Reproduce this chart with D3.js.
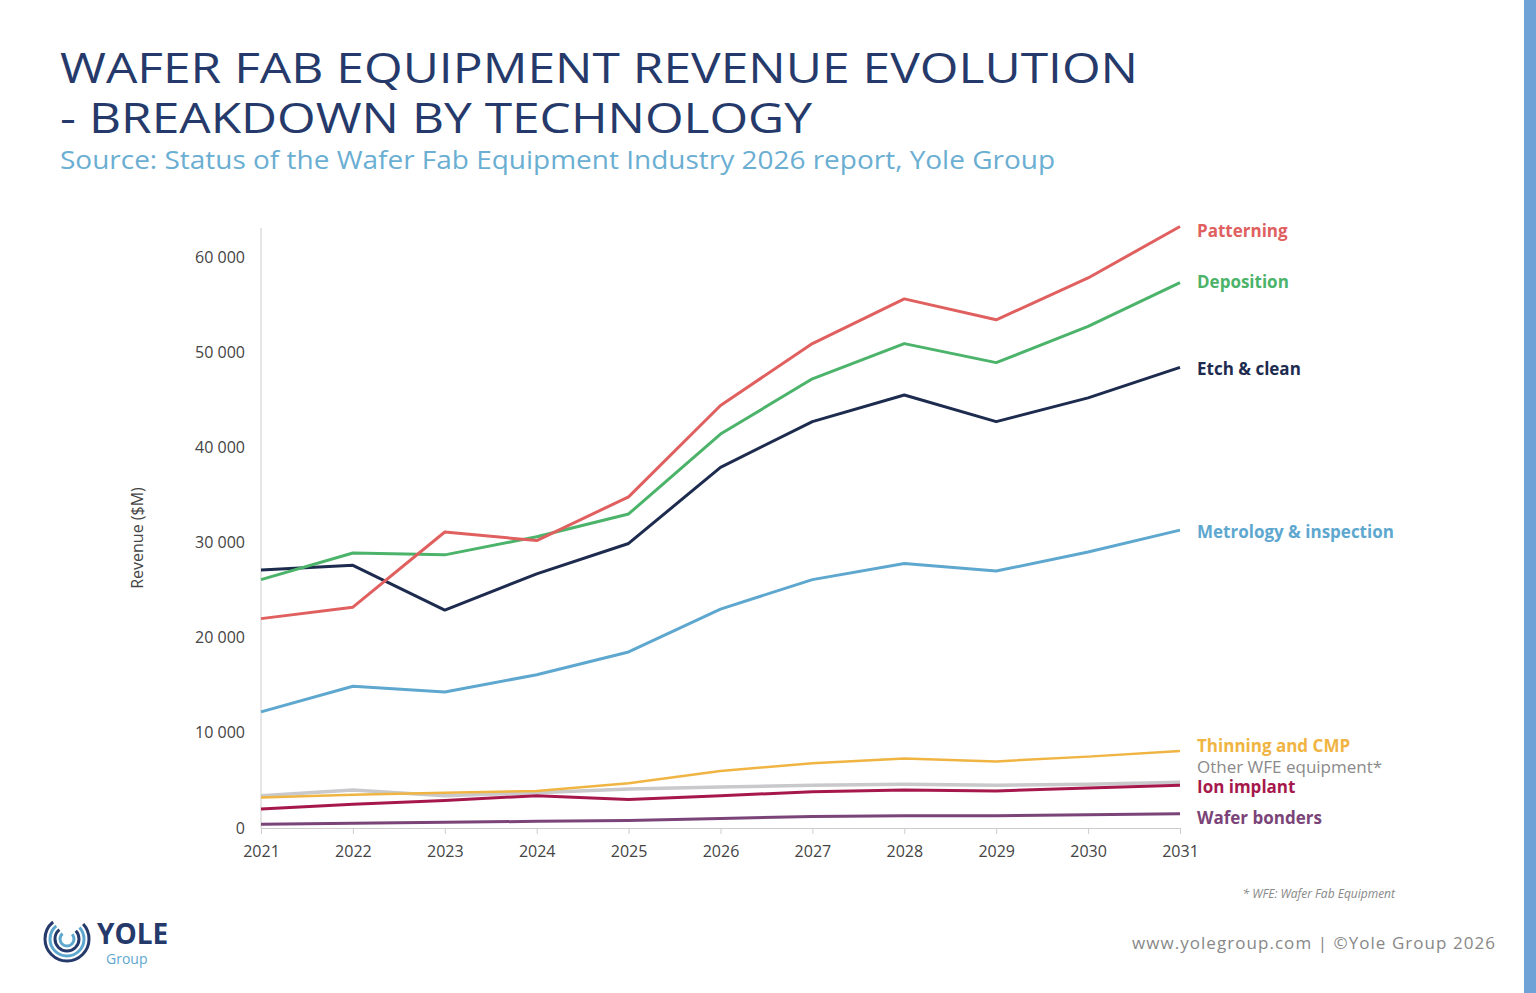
<!DOCTYPE html><html><head><meta charset="utf-8"><script src="https://cdn.jsdelivr.net/npm/d3@7"></script>
<style>body{margin:0;background:#fff;font-family:"Open Sans",sans-serif}</style></head><body><svg id="c" width="1536" height="993"></svg>
<script>
const years=[2021,2022,2023,2024,2025,2026,2027,2028,2029,2030,2031];
const yTicks=[0,10000,20000,30000,40000,50000,60000];
const patterning=[22000,23200,31100,30200,34800,44400,50900,55600,53400,57800,63200];
const deposition=[26100,28900,28700,30600,33000,41400,47200,50900,48900,52700,57300];
const etch=[27100,27600,22900,26700,29900,37900,42700,45500,42700,45200,48400];
const metrology=[12200,14900,14300,16100,18500,23000,26100,27800,27000,29000,31300];
const thinning=[3200,3500,3700,3900,4700,6000,6800,7300,7000,7500,8100];
const other=[3400,4000,3400,3700,4100,4300,4500,4600,4500,4600,4800];
const ion=[2000,2500,2900,3400,3000,3400,3800,4000,3900,4200,4500];
const bonders=[400,500,600,700,800,1000,1200,1300,1300,1400,1500];
const series=[
 {name:"Other WFE equipment*",v:other,c:"#c9c9cc",w:3.5,ly:767,bold:false,lc:"#8a8a8a"},
 {name:"Wafer bonders",v:bonders,c:"#7a4478",w:3,ly:818,bold:true},
 {name:"Ion implant",v:ion,c:"#a6184c",w:3,ly:787,bold:true},
 {name:"Thinning and CMP",v:thinning,c:"#f0b443",w:2.5,ly:746,bold:true},
 {name:"Metrology & inspection",v:metrology,c:"#5ea7cf",w:3,ly:532,bold:true},
 {name:"Etch & clean",v:etch,c:"#1d2b4f",w:3,ly:369,bold:true},
 {name:"Deposition",v:deposition,c:"#4cb36a",w:3,ly:282,bold:true},
 {name:"Patterning",v:patterning,c:"#e0605f",w:3,ly:231,bold:true}
];
const svg=d3.select("#c");
svg.append("rect").attr("x",1524).attr("y",0).attr("width",12).attr("height",993).attr("fill","#6fa3d8");
svg.append("text").attr("x",60).attr("y",83).attr("fill","#253a6b").attr("font-size",42).attr("font-weight",500).attr("textLength",1078).attr("lengthAdjust","spacingAndGlyphs").text("WAFER FAB EQUIPMENT REVENUE EVOLUTION");
svg.append("text").attr("x",60).attr("y",133).attr("fill","#253a6b").attr("font-size",42).attr("font-weight",500).attr("textLength",752).attr("lengthAdjust","spacingAndGlyphs").text("- BREAKDOWN BY TECHNOLOGY");
svg.append("text").attr("x",60).attr("y",169).attr("fill","#6aaed2").attr("font-size",25).attr("textLength",995).attr("lengthAdjust","spacingAndGlyphs").text("Source: Status of the Wafer Fab Equipment Industry 2026 report, Yole Group");
const x=d3.scaleLinear().domain([2021,2031]).range([261,1180]);
const y=d3.scaleLinear().domain([0,60000]).range([828,257]);
const ya=svg.append("g").attr("transform","translate(261,0)").call(d3.axisLeft(y).tickValues(yTicks).tickSize(0).tickPadding(16).tickFormat(d=>d3.format(",")(d).replace(","," ")));
ya.select(".domain").remove();
svg.append("line").attr("x1",261).attr("x2",261).attr("y1",228).attr("y2",828).attr("stroke","#ccc");
const xa=svg.append("g").attr("transform","translate(0,828)").call(d3.axisBottom(x).tickValues(years).tickSize(6).tickPadding(12).tickFormat(d3.format("d")));
xa.select(".domain").attr("stroke","#ccc");xa.selectAll(".tick line").attr("stroke","#ccc");
svg.selectAll(".tick text").attr("font-size",16).attr("fill","#444").attr("font-family","Open Sans");
svg.append("text").attr("transform","translate(143,538) rotate(-90)").attr("text-anchor","middle").attr("font-size",16).attr("fill","#444").text("Revenue ($M)");
const line=d3.line().x((d,i)=>x(years[i])).y(d=>y(d));
series.forEach(s=>{
 svg.append("path").attr("d",line(s.v)).attr("fill","none").attr("stroke",s.c).attr("stroke-width",s.w).attr("stroke-linejoin","round");
 svg.append("text").attr("x",1197).attr("y",s.ly).attr("dy","0.35em").attr("font-size",17).attr("font-weight",s.bold?700:400).attr("fill",s.lc||s.c).text(s.name);
});
svg.append("text").attr("x",1395).attr("y",898).attr("text-anchor","end").attr("font-size",12).attr("font-style","italic").attr("fill","#888").text("* WFE: Wafer Fab Equipment");
svg.append("text").attr("x",1495).attr("y",949).attr("text-anchor","end").attr("font-size",17).attr("fill","#888").attr("textLength",363).text("www.yolegroup.com | ©Yole Group 2026");
const lg=svg.append("g").attr("transform","translate(67,939)");
[22,17,12,7].forEach((r,i)=>lg.append("circle").attr("r",r).attr("fill","none").attr("stroke",i%2?"#5ea7cf":"#253a6b").attr("stroke-width",3).attr("stroke-dasharray",(r*4)+" "+(r*1.5)));
svg.append("text").attr("x",97).attr("y",944).attr("font-size",28).attr("font-weight",700).attr("fill","#253a6b").text("YOLE");
svg.append("text").attr("x",106).attr("y",964).attr("font-size",14).attr("fill","#5ea7cf").text("Group");
</script></body></html>
